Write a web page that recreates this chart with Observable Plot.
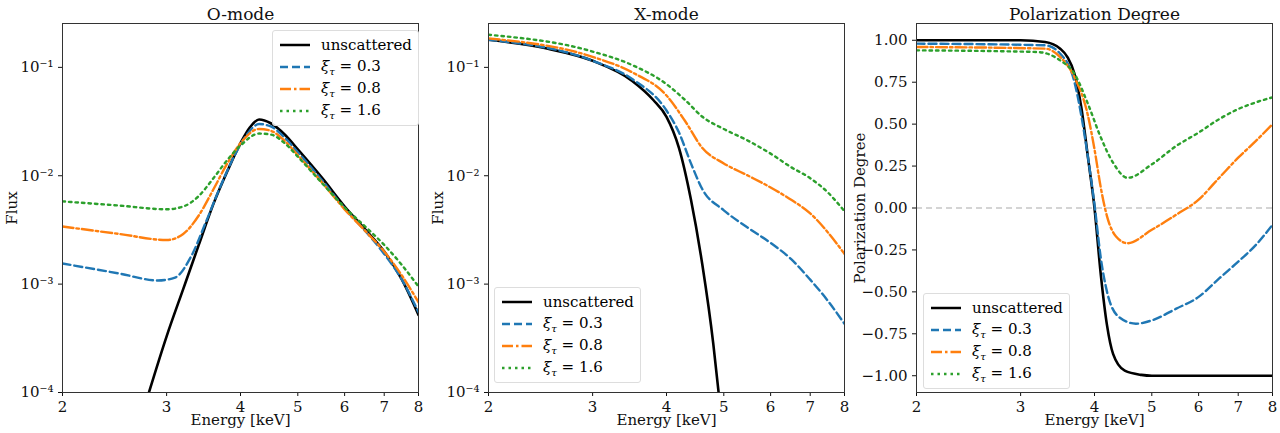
<!DOCTYPE html>
<html><head><meta charset="utf-8">
<script src="https://cdn.jsdelivr.net/npm/d3@7"></script>
<script src="https://cdn.jsdelivr.net/npm/@observablehq/plot@0.6"></script>
<style>
body{margin:0;background:#fff;font-family:"DejaVu Serif",serif;}
#wrap{position:relative;width:1280px;height:433px;}
.panel{position:absolute;top:0;}
.legend{position:absolute;background:rgba(255,255,255,0.85);border:1px solid #ddd;border-radius:3px;font-family:"DejaVu Serif",serif;font-size:15px;padding:3px 6px;}
.legend div{display:flex;align-items:center;height:22px;}
.legend svg{margin-right:10px;}
sub{font-size:10px;}
</style></head><body><div id="wrap"></div>
<script>
const colors = ["#000000","#1f77b4","#ff7f0e","#2ca02c"];
const labels = ["unscattered","0.3","0.8","1.6"];
const dashes = [null,"8,4","11,3,2.5,3","2.5,4"];

// O-mode
const oX0=[2.8,3,3.2,3.4,3.6,3.8,4,4.15,4.3,4.5,4.75,5,5.5,6,6.5,7,7.5,8];
const oY0=[1e-4,3.3e-4,9e-4,2.3e-3,5.5e-3,1.1e-2,2e-2,2.8e-2,3.3e-2,3.05e-2,2.4e-2,1.75e-2,9.5e-3,5.2e-3,3.2e-3,2.0e-3,1.1e-3,5.2e-4];
const oX1=[2,2.5,2.9,3.1,3.3,3.5,3.7,3.9,4.1,4.3,4.5,4.75,5,5.5,6,6.5,7,7.5,8];
const oY1=[1.55e-3,1.25e-3,1.08e-3,1.15e-3,1.8e-3,3.8e-3,8e-3,1.5e-2,2.4e-2,3.0e-2,2.85e-2,2.25e-2,1.65e-2,9e-3,5.0e-3,3.1e-3,1.9e-3,1.1e-3,5.5e-4];
const oX2=[2,2.5,3,3.2,3.4,3.6,3.8,4,4.3,4.5,4.75,5,5.5,6,6.5,7,7.5,8];
const oY2=[3.4e-3,2.9e-3,2.55e-3,2.9e-3,4.3e-3,7.5e-3,1.3e-2,2e-2,2.7e-2,2.6e-2,2.1e-2,1.55e-2,8.6e-3,4.9e-3,3.1e-3,2e-3,1.2e-3,6.8e-4];
const oX3=[2,2.5,3,3.2,3.4,3.6,3.8,4,4.3,4.5,4.75,5,5.5,6,6.5,7,7.5,8];
const oY3=[5.8e-3,5.3e-3,4.9e-3,5.2e-3,6.5e-3,9.5e-3,1.4e-2,1.9e-2,2.45e-2,2.4e-2,2.0e-2,1.5e-2,8.5e-3,5.1e-3,3.4e-3,2.3e-3,1.5e-3,9.5e-4];

// X-mode
const xX0=[2,2.5,3,3.5,3.8,4,4.2,4.4,4.6,4.8,4.9];
const xY0=[0.18,0.15,0.115,0.075,0.05,0.035,0.018,6e-3,1.5e-3,2.8e-4,1e-4];
const xX1=[2,3,3.5,4,4.2,4.4,4.6,5,5.5,6,6.5,7,7.5,8];
const xY1=[0.18,0.115,0.078,0.04,0.025,0.013,7.5e-3,4.8e-3,3.3e-3,2.4e-3,1.7e-3,1.1e-3,7e-4,4.3e-4];
const xX2=[2,3,3.5,4,4.3,4.6,5,5.5,6,6.5,7,7.5,8];
const xY2=[0.185,0.125,0.09,0.055,0.032,0.018,0.013,0.01,0.0078,0.006,0.0045,0.003,0.0019];
const xX3=[2,3,3.5,4,4.3,4.6,5,5.5,6,6.5,7,7.5,8];
const xY3=[0.2,0.14,0.105,0.07,0.05,0.035,0.027,0.021,0.016,0.012,0.0095,0.007,0.0047];

// Polarization degree
const pX0=[2,3,3.3,3.5,3.6,3.7,3.8,3.9,4,4.1,4.2,4.3,4.5,4.8,5,8];
const pY0=[1,1,0.99,0.95,0.9,0.8,0.6,0.3,0,-0.4,-0.7,-0.87,-0.97,-0.995,-1,-1];
const pX1=[2,3.3,3.5,3.7,3.8,3.9,4,4.1,4.2,4.4,4.7,5,5.5,6,6.5,7,7.5,8];
const pY1=[0.98,0.97,0.92,0.75,0.55,0.3,0.02,-0.3,-0.5,-0.65,-0.69,-0.67,-0.6,-0.53,-0.42,-0.32,-0.22,-0.1];
const pX2=[2,3.3,3.5,3.7,3.9,4,4.1,4.2,4.35,4.55,5,5.5,6,6.5,7,7.5,8];
const pY2=[0.96,0.95,0.9,0.78,0.55,0.35,0.12,-0.05,-0.17,-0.21,-0.13,-0.04,0.05,0.18,0.3,0.4,0.5];
const pX3=[2,3.2,3.5,3.7,3.9,4.1,4.3,4.55,5,5.5,6,6.5,7,7.5,8];
const pY3=[0.94,0.93,0.88,0.8,0.62,0.42,0.27,0.18,0.26,0.37,0.45,0.53,0.59,0.63,0.66];

const xTicks=[2,3,4,5,6,7,8];
const logTicks=[1e-4,1e-3,1e-2,1e-1];
const linTicks=[-1,-0.75,-0.5,-0.25,0,0.25,0.5,0.75,1];

const sup={"-":"⁻","1":"¹","2":"²","3":"³","4":"⁴"};
const fmtPow=d=>"10"+String(Math.round(Math.log10(d))).split("").map(c=>sup[c]).join("");

function series(xs,ys){return xs.map((x,i)=>({x,y:ys[i]}));}
const wrap=document.getElementById("wrap");

function panel(left,title,sets,ylog,ml,mr){
  const marks=[];
  if(!ylog) marks.push(Plot.ruleY([0],{stroke:"#aaa",strokeDasharray:"6,4",strokeWidth:1.2}));
  sets.forEach((s,i)=>{
    marks.push(Plot.line(s,{x:"x",y:"y",stroke:colors[i],strokeWidth:i===0?2.6:2.4,strokeDasharray:dashes[i],curve:"monotone-x",clip:true}));
  });
  marks.push(Plot.frame({stroke:"#333"}));
  marks.push(Plot.text([title],{frameAnchor:"top",dy:-4,lineAnchor:"bottom",fontSize:17,fill:"#111"}));
  const p=Plot.plot({
    width:427,height:433,marginLeft:ml,marginRight:mr,marginTop:23,marginBottom:41,
    style:{fontFamily:"DejaVu Serif, serif",fontSize:"15px",color:"#111",background:"transparent",overflow:"visible"},
    x:{type:"log",domain:[2,8],ticks:xTicks,tickFormat:d=>String(d),label:"Energy [keV]",labelAnchor:"center",labelArrow:"none",labelOffset:32,tickSize:4},
    y: ylog?{type:"log",domain:[1e-4,0.254],ticks:logTicks,tickFormat:fmtPow,label:"Flux",labelAnchor:"center",labelArrow:"none",labelOffset:56,tickSize:4}
          :{domain:[-1.1,1.1],ticks:linTicks,tickFormat:d3.format(".2f"),label:"Polarization Degree",labelAnchor:"center",labelArrow:"none",labelOffset:62,tickSize:4},
    marks
  });
  p.classList.add("panel");p.style.left=left+"px";
  wrap.appendChild(p);
}
function legend(x,y){
  const d=document.createElement("div");d.className="legend";d.style.left=x+"px";d.style.top=y+"px";
  labels.forEach((l,i)=>{
    const row=document.createElement("div");
    row.innerHTML=`<svg width="32" height="10"><line x1="1" y1="5" x2="31" y2="5" stroke="${colors[i]}" stroke-width="2.5" ${dashes[i]?`stroke-dasharray="${dashes[i]}"`:""}/></svg>`+
      (i===0?l:`<span><i>ξ</i><sub><i>τ</i></sub> = ${l}</span>`);
    d.appendChild(row);
  });
  wrap.appendChild(d);
}
panel(0,"O-mode",[series(oX0,oY0),series(oX1,oY1),series(oX2,oY2),series(oX3,oY3)],true,62,9);
panel(427,"X-mode",[series(xX0,xY0),series(xX1,xY1),series(xX2,xY2),series(xX3,xY3)],true,61,10);
panel(854,"Polarization Degree",[series(pX0,pY0),series(pX1,pY1),series(pX2,pY2),series(pX3,pY3)],false,62,9);
legend(272,30);legend(494,287);legend(923,293);
</script></body></html>
